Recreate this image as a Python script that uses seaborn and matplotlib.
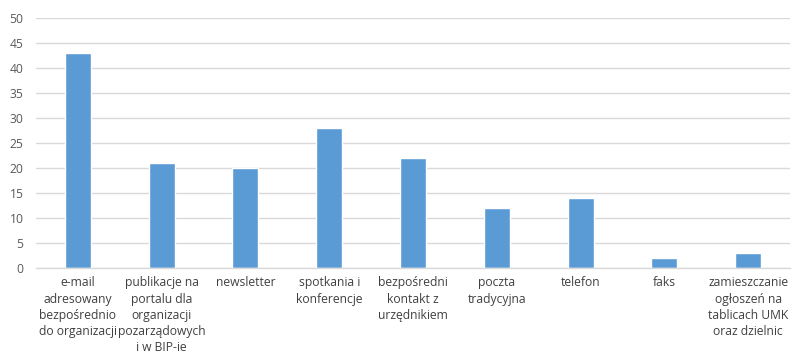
import matplotlib
matplotlib.use("Agg")
import matplotlib.pyplot as plt
import seaborn as sns
import pandas as pd

categories = [
    "e-mail\nadresowany\nbezpośrednio\ndo organizacji",
    "publikacje na\nportalu dla\norganizacji\npozarządowych\ni w BIP-ie",
    "newsletter",
    "spotkania i\nkonferencje",
    "bezpośredni\nkontakt z\nurzędnikiem",
    "poczta\ntradycyjna",
    "telefon",
    "faks",
    "zamieszczanie\nogłoszeń na\ntablicach UMK\noraz dzielnic",
]
values = [43, 21, 20, 28, 22, 12, 14, 2, 3]
y_ticks = [0, 5, 10, 15, 20, 25, 30, 35, 40, 45, 50]

df = pd.DataFrame({"kategoria": categories, "liczba": values})

sns.set_theme(style="white")
plt.rcParams["font.family"] = ["Open Sans", "DejaVu Sans"]

fig = plt.figure(figsize=(7.95, 3.55), dpi=100)
ax = fig.add_axes([36 / 795, 1 - 268 / 355, 754 / 795, 250 / 355])

sns.barplot(data=df, x="kategoria", y="liczba", color="#5B9BD5",
            width=0.31, saturation=1, ax=ax)

ax.set_ylim(0, 50)
ax.set_yticks(y_ticks)
ax.set_xlim(-0.5, len(categories) - 0.5)
ax.yaxis.grid(True, color="#D9D9D9", linewidth=1)
ax.set_axisbelow(True)
for side in ["top", "right", "left"]:
    ax.spines[side].set_visible(False)
ax.spines["bottom"].set_color("#D9D9D9")
ax.spines["bottom"].set_linewidth(1)
ax.set_xlabel("")
ax.set_ylabel("")
ax.tick_params(axis="both", length=0, labelsize=8.7, colors="#404040")
ax.tick_params(axis="y", colors="#595959")
ax.tick_params(axis="x", pad=6)
ax.tick_params(axis="y", pad=9)
for lbl in ax.get_xticklabels():
    lbl.set_linespacing(1.32)
for lbl in ax.get_yticklabels():
    lbl.set_horizontalalignment("right")

fig.savefig("out.png", dpi=100, facecolor="white")
